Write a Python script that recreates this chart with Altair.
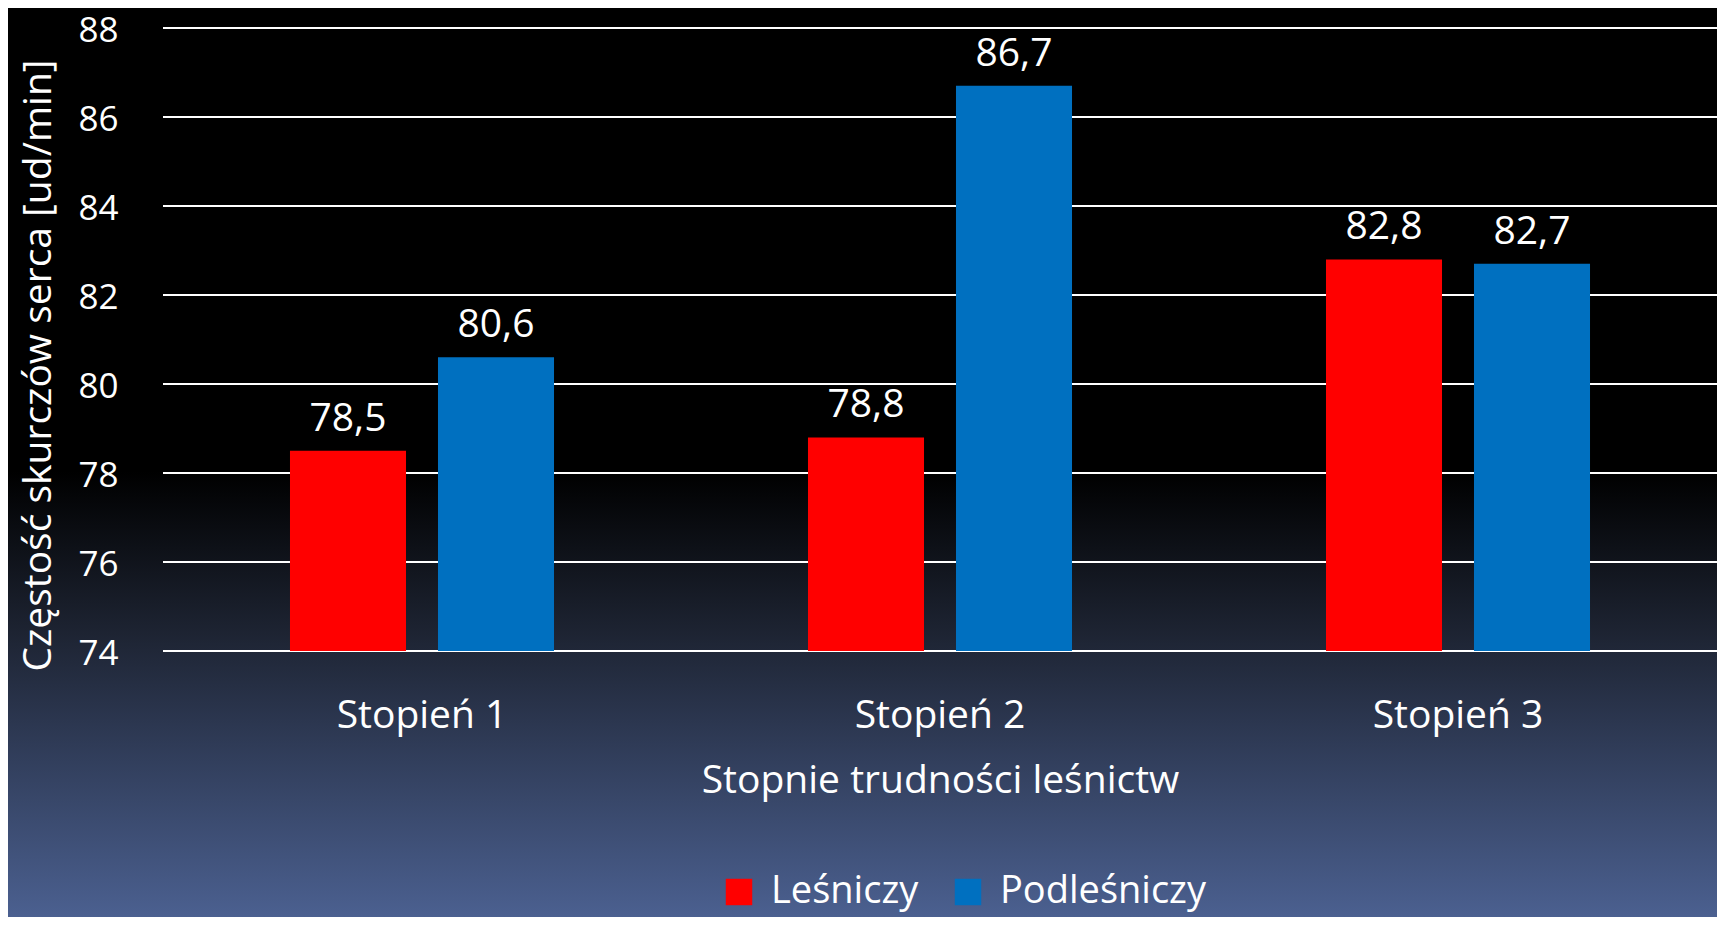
import altair as alt
import pandas as pd

categories = ["Stopień 1", "Stopień 2", "Stopień 3"]
series = ["Leśniczy", "Podleśniczy"]
lesniczy = [78.5, 78.8, 82.8]
podlesniczy = [80.6, 86.7, 82.7]
y_ticks = [74, 76, 78, 80, 82, 84, 86, 88]
colors = ["#FF0000", "#0070C0"]

FONT = "Open Sans"
W, H = 1554, 623
PL, PT, PR, PB = 155, 20, 0, 266

rows = []
for i, c in enumerate(categories):
    rows.append({"cat": c, "series": series[0], "v": lesniczy[i]})
    rows.append({"cat": c, "series": series[1], "v": podlesniczy[i]})
df = pd.DataFrame(rows)

bg = alt.Chart(pd.DataFrame({"a": [0]})).mark_rect(
    color=alt.Gradient(
        gradient="linear",
        stops=[
            alt.GradientStop(color="#000000", offset=0),
            alt.GradientStop(color="#000000", offset=0.51),
            alt.GradientStop(color="#1c2230", offset=0.68),
            alt.GradientStop(color="#4b6090", offset=1),
        ],
        x1=0, x2=0, y1=0, y2=1,
    )
).encode(
    x=alt.value(-PL), x2=alt.value(W + PR),
    y=alt.value(-PT), y2=alt.value(H + PB),
)

grid = alt.Chart(pd.DataFrame({"t": y_ticks})).mark_rule(
    color="#ffffff", strokeWidth=2
).encode(
    y=alt.Y("t:Q", scale=alt.Scale(domain=[74, 88], nice=False, zero=False)),
    x=alt.value(0), x2=alt.value(W),
)

xenc = alt.X(
    "cat:N", sort=categories,
    scale=alt.Scale(paddingInner=0, paddingOuter=0),
    axis=alt.Axis(
        title="Stopnie trudności leśnictw", labelAngle=0, ticks=False, domain=False,
        labelPadding=45, titlePadding=26, zindex=1,
        labelFont=FONT, labelFontSize=39, labelColor="#ffffff",
        titleFont=FONT, titleFontSize=39, titleColor="#ffffff", titleFontWeight="normal",
    ),
)
yenc = alt.Y(
    "v:Q",
    scale=alt.Scale(domain=[74, 88], nice=False, zero=False),
    axis=alt.Axis(
        title="Częstość skurczów serca [ud/min]", values=y_ticks, grid=False, ticks=False,
        domain=False, labelPadding=45, zindex=1,
        labelBaseline="alphabetic", labelOffset=13,
        labelFont=FONT, labelFontSize=35, labelColor="#ffffff",
        titleFont=FONT, titleFontSize=39, titleColor="#ffffff", titleFontWeight="normal",
        titleX=-125, titleY=337, titleAngle=270, titleAlign="center", titleBaseline="middle",
    ),
)
xoff = alt.XOffset(
    "series:N", sort=series,
    scale=alt.Scale(paddingInner=0.216, paddingOuter=0.858),
)

bars = alt.Chart(df).mark_bar().encode(
    x=xenc, xOffset=xoff, y=yenc, y2=alt.datum(74),
    color=alt.Color(
        "series:N", sort=series,
        scale=alt.Scale(domain=series, range=colors),
        legend=alt.Legend(
            title=None, orient="none", direction="horizontal", legendX=557, legendY=845,
            symbolType="square", symbolSize=700, symbolStrokeWidth=0,
            labelFont=FONT, labelFontSize=38, labelColor="#ffffff", labelOffset=13,
            labelLimit=0, columnPadding=30, zindex=1,
        ),
    ),
)

labels = alt.Chart(df).transform_calculate(
    lab="replace(format(datum.v, '.1f'), '.', ',')"
).mark_text(
    font=FONT, fontSize=39, color="#ffffff", baseline="alphabetic", dy=-20
).encode(
    x=alt.X("cat:N", sort=categories), xOffset=xoff,
    y=alt.Y("v:Q"), text="lab:N",
)

chart = alt.layer(bg, grid, bars, labels).properties(
    width=W, height=H,
    padding={"left": PL, "top": PT, "right": PR, "bottom": PB},
    autosize=alt.AutoSizeParams(type="none"),
    background="#000000",
).configure_view(stroke=None)

chart.save("out.html", embed_options={"renderer": "svg", "actions": False})
